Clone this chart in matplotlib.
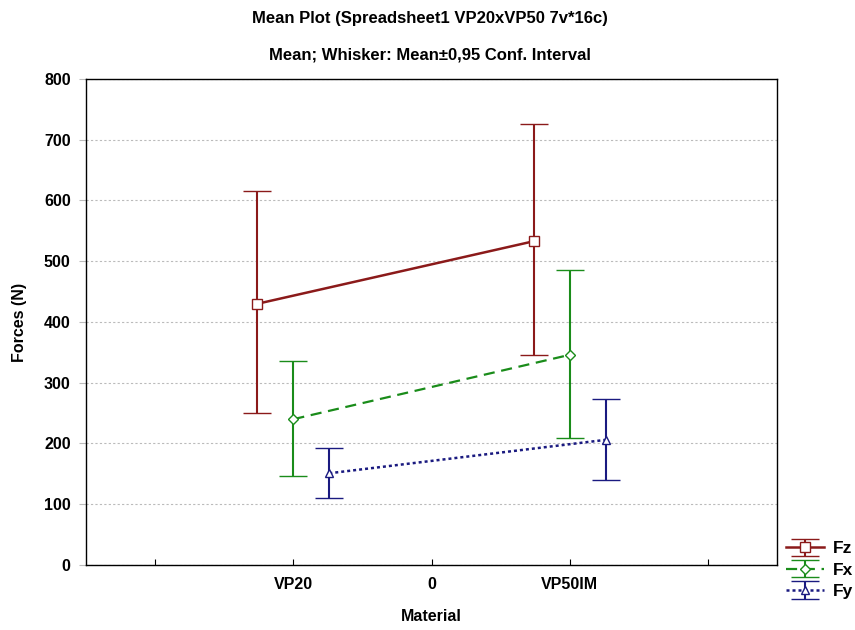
import numpy as np
from matplotlib import pyplot

pyplot.rcParams['font.family'] = ['Liberation Sans', 'DejaVu Sans']

# positions of tick slots; the two groups sit on slots 1 and 3
tickLabels = ['', 'VP20', '0', 'VP50IM', '']
groupPos = np.array([1.0, 3.0])

fzMean = [430, 533]
fzLow = [250, 346]
fzHigh = [615, 726]

fxMean = [240, 346]
fxLow = [146, 209]
fxHigh = [335, 486]

fyMean = [151, 206]
fyLow = [111, 140]
fyHigh = [192, 273]

colors = ['#8b1a1a', '#1a8c1a', '#1a1a80']

figure = pyplot.figure(figsize=(8.55, 6.3), dpi=100)
axis = figure.add_axes([0.1006, 0.1032, 0.8084, 0.7714])

series = [
	('Fz', fzMean, fzLow, fzHigh, -0.26, 's', '-', 7, 1.8),
	('Fx', fxMean, fxLow, fxHigh, 0.0, 'D', (0, (5, 3)), 5, 1.6),
	('Fy', fyMean, fyLow, fyHigh, 0.26, '^', (0, (1.2, 1.2)), 6, 1.8),
]

handles = []
for i, (name, mean, low, high, off, mk, ls, ms, lw) in enumerate(series):
	mean = np.array(mean)
	err = [mean - np.array(low), np.array(high) - mean]
	h = axis.errorbar(groupPos + off, mean, yerr=err, color=colors[i], ecolor=colors[i],
		elinewidth=1.5, capsize=10, capthick=1.8, linestyle=ls, linewidth=lw,
		marker=mk, markersize=ms, markerfacecolor='white', markeredgecolor=colors[i],
		markeredgewidth=1.0, label=name, zorder=3)
	handles.append(h)

axis.set_xlim(-0.5, 4.5)
axis.set_ylim(0, 800)
axis.set_xticks(range(5))
axis.set_xticklabels(tickLabels, fontsize=11.5, fontweight='bold')
axis.set_yticks(range(0, 801, 100))
axis.set_yticklabels([str(v) for v in range(0, 801, 100)], fontsize=11.5, fontweight='bold')
axis.tick_params(axis='x', direction='in', length=4, pad=9)
axis.tick_params(axis='y', direction='out', length=5, color='#bbbbbb', pad=6)
axis.yaxis.grid(True, linestyle=(0, (2, 2)), color='#bbbbbb', linewidth=0.8)
axis.set_axisbelow(True)
for s in axis.spines.values():
	s.set_linewidth(1.0)

axis.set_xlabel('Material', fontsize=11.5, fontweight='bold', labelpad=12)
axis.set_ylabel('Forces (N)', fontsize=11.5, fontweight='bold', labelpad=12)

figure.text(0.503, 0.971, 'Mean Plot (Spreadsheet1 VP20xVP50 7v*16c)', ha='center', va='center',
	fontsize=12, fontweight='bold')
figure.text(0.503, 0.913, 'Mean; Whisker: Mean\u00b10,95 Conf. Interval', ha='center', va='center',
	fontsize=12, fontweight='bold')

figure.legend(handles=handles, loc='center left', bbox_to_anchor=(0.905, 0.095), frameon=False,
	fontsize=12.5, handlelength=2.2, handletextpad=0.5, labelspacing=0.35, borderpad=0.2,
	prop={'weight': 'bold', 'size': 12.5})

pyplot.savefig('out.png', dpi=100)
